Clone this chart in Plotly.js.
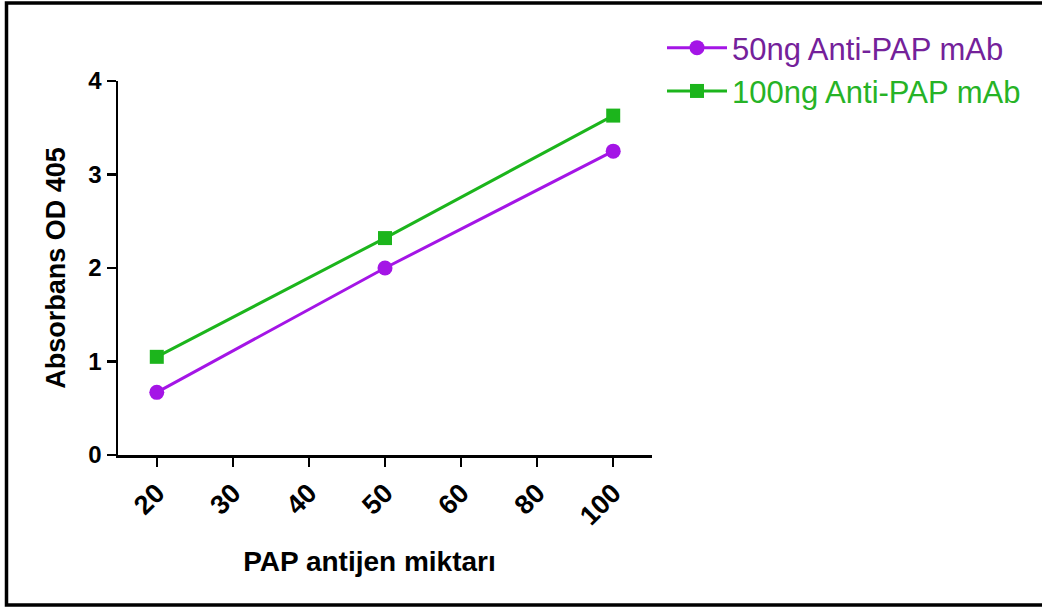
<!DOCTYPE html>
<html>
<head>
<meta charset="utf-8">
<script src="https://cdn.plot.ly/plotly-3.0.1.min.js"></script>
<style>
  html, body { margin: 0; padding: 0; background: #fff; }
  #chart { width: 1042px; height: 610px; }
</style>
</head>
<body>
<div id="chart"></div>
<script>
// Data
const categories = ['20', '30', '40', '50', '60', '80', '100'];
const xMeasured = ['20', '50', '100'];
const od50ng = [0.67, 2.0, 3.25];
const od100ng = [1.05, 2.32, 3.63];
const seriesNames = ['50ng Anti-PAP mAb', '100ng Anti-PAP mAb'];
const yTicks = [0, 1, 2, 3, 4];

const purple = '#a415e6';
const green = '#1cb51c';
const purpleText = '#74219a';
const greenText = '#26b326';
const font = 'Arial, "Liberation Sans", Helvetica, sans-serif';

const traces = [
  {
    x: xMeasured, y: od50ng, type: 'scatter', mode: 'lines+markers',
    name: '<span style="color:' + purpleText + '">' + seriesNames[0] + '</span>',
    legendgroup: 'a',
    line: { color: purple, width: 3 },
    marker: { color: purple, symbol: 'circle', size: 15 }
  },
  {
    x: xMeasured, y: od100ng, type: 'scatter', mode: 'lines+markers',
    name: '<span style="color:' + greenText + '">' + seriesNames[1] + '</span>',
    legendgroup: 'b',
    line: { color: green, width: 3 },
    marker: { color: green, symbol: 'square', size: 14 }
  }
];

const L = 118, R = 652, T = 81, B = 455;
const px = v => (v - L) / (R - L);
const py = v => (B - v) / (B - T);

const layout = {
  width: 1042, height: 610,
  margin: { l: L, r: 1042 - R, t: T, b: 610 - B, pad: 0 },
  paper_bgcolor: '#ffffff', plot_bgcolor: '#ffffff',
  font: { family: font, color: '#000' },
  showlegend: true,
  legend: {
    x: px(662), y: py(21), xanchor: 'left', yanchor: 'top',
    font: { family: font, size: 31 },
    tracegroupgap: 0,
    itemwidth: 60,
    bgcolor: 'rgba(0,0,0,0)'
  },
  xaxis: {
    type: 'category',
    categoryorder: 'array', categoryarray: categories,
    tickvals: categories, ticktext: categories,
    range: [-0.51, 6.51],
    showgrid: false, zeroline: false,
    showline: true, linecolor: '#000', linewidth: 2.5,
    ticks: 'outside', ticklen: 9, tickwidth: 2.5, tickcolor: '#000',
    tickangle: -45,
    tickfont: { family: font, size: 27, color: '#000', weight: 'bold' },
    title: { text: '<b>PAP antijen miktarı</b>&nbsp;&nbsp;&nbsp;&nbsp;', font: { family: font, size: 28, color: '#000' }, standoff: 22 },
    fixedrange: true
  },
  yaxis: {
    range: [0, 4],
    tickvals: yTicks,
    showgrid: false, zeroline: false,
    showline: true, linecolor: '#000', linewidth: 2.5,
    ticks: 'outside', ticklen: 9, tickwidth: 2.5, tickcolor: '#000',
    tickfont: { family: font, size: 24, color: '#000', weight: 'bold' },
    title: { text: '<b>Absorbans OD 405</b>', font: { family: font, size: 27, color: '#000' }, standoff: 15 },
    fixedrange: true
  },
  shapes: [{
    type: 'rect', xref: 'paper', yref: 'paper',
    x0: px(6.5), x1: px(1050), y0: py(605), y1: py(3),
    line: { color: '#000', width: 3.5 }, fillcolor: 'rgba(0,0,0,0)', layer: 'above'
  }]
};

Plotly.newPlot('chart', traces, layout, { displayModeBar: false, staticPlot: true });
</script>
</body>
</html>
